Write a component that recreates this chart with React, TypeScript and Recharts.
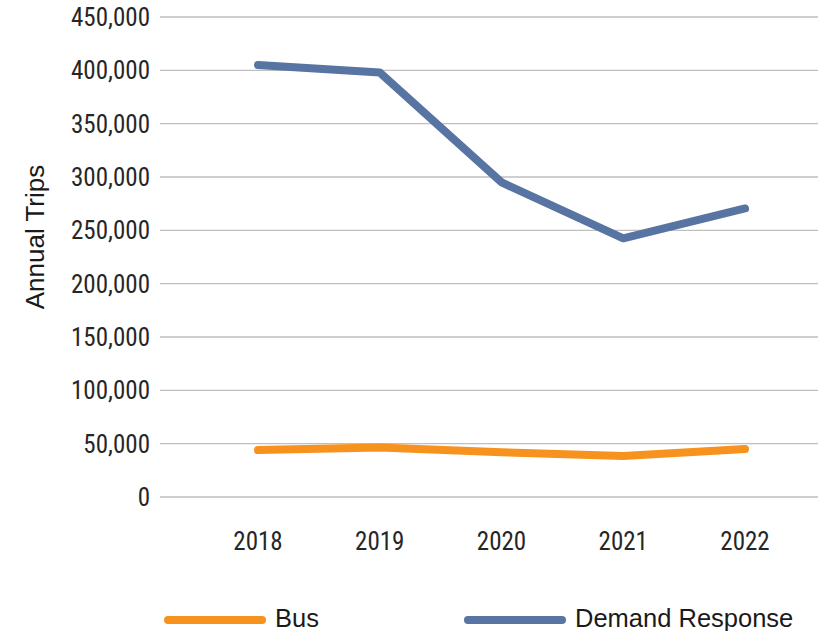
import React from 'react';
import { LineChart, Line, XAxis, YAxis, CartesianGrid } from 'recharts';

const years = ['2018', '2019', '2020', '2021', '2022'];
const busTrips = [44000, 46500, 42000, 38500, 45000];
const demandTrips = [405000, 398000, 295000, 242500, 270500];
const yTicks = [0, 50000, 100000, 150000, 200000, 250000, 300000, 350000, 400000, 450000];

const seriesInfo = [
  { key: 'bus', name: 'Bus', color: '#F7921E' },
  { key: 'demand', name: 'Demand Response', color: '#5874A2' },
];

const chartData = years.map((y, i) => ({ year: y, bus: busTrips[i], demand: demandTrips[i] }));

const tickFont = { fontFamily: '"Liberation Sans Narrow", "Roboto Condensed", Roboto, sans-serif', fontSize: 25, fill: '#262626' };

const BottomLegend = () => (
  <svg width={818} height={31} style={{ position: 'absolute', left: 0, top: 600 }}>
    {seriesInfo.map((s, i) => {
      const x0 = i === 0 ? 168 : 468;
      return (
        <g key={s.key}>
          <line x1={x0} y1={20} x2={x0 + 94} y2={20} stroke={s.color} strokeWidth={8} strokeLinecap="round" />
          <text x={x0 + 107} y={27} fontFamily='"Liberation Sans", Arial, sans-serif' fontSize={25.5} fill="#1a1a1a">
            {s.name}
          </text>
        </g>
      );
    })}
  </svg>
);

const App: React.FC = () => {
  return (
    <div style={{ position: 'absolute', left: 0, top: 0, width: 818, height: 631, background: '#fff', overflow: 'hidden' }}>
      <LineChart width={818} height={631} data={chartData} margin={{ top: 17, right: 0, bottom: 104, left: 0 }}>
        <CartesianGrid vertical={false} stroke="#BFBFBF" strokeWidth={1.3} />
        <XAxis
          dataKey="year"
          axisLine={false}
          tickLine={false}
          tickSize={0}
          tickMargin={35}
          padding={{ left: 98, right: 73 }}
          tick={tickFont}
        />
        <YAxis
          width={160}
          domain={[0, 450000]}
          ticks={yTicks}
          interval={0}
          axisLine={false}
          tickLine={false}
          tickSize={0}
          tickMargin={10}
          tick={tickFont}
          tickFormatter={(v: number) => v.toLocaleString('en-US')}
          label={{
            content: () => (
              <text
                x={35}
                y={237}
                transform="rotate(-90 35 237)"
                textAnchor="middle"
                dominantBaseline="central"
                fontFamily='"Liberation Sans", Arial, sans-serif'
                fontSize={26}
                fill="#1a1a1a"
              >
                Annual Trips
              </text>
            ),
          }}
        />
        {seriesInfo.map((s) => (
          <Line
            key={s.key}
            dataKey={s.key}
            name={s.name}
            stroke={s.color}
            strokeWidth={8}
            strokeLinecap="round"
            strokeLinejoin="round"
            dot={false}
            activeDot={false}
            isAnimationActive={false}
          />
        ))}
      </LineChart>
      <BottomLegend />
    </div>
  );
};

export default App;
